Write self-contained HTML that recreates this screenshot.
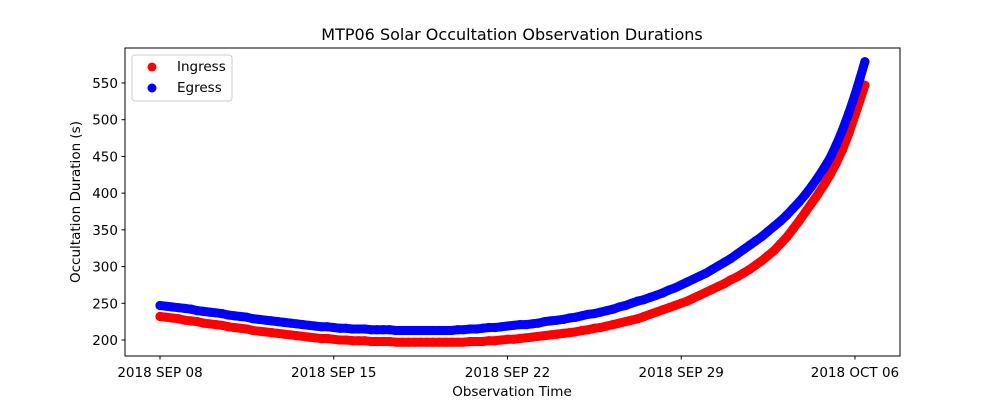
<!DOCTYPE html>
<html><head><meta charset="utf-8"><style>
body{margin:0;background:#fff;font-family:"DejaVu Sans","Liberation Sans",sans-serif;}
svg text{font-family:"DejaVu Sans","Liberation Sans",sans-serif;}
</style></head><body>
<svg id="chart" width="1000" height="400" xmlns="http://www.w3.org/2000/svg">
<rect width="1000" height="400" fill="#fff"/>
<text x="512" y="40" text-anchor="middle" font-size="16">MTP06 Solar Occultation Observation Durations</text>
<g id="plot"></g>
<rect x="125" y="48" width="775" height="308" fill="none" stroke="#000" stroke-width="1"/>
<text x="512" y="396" text-anchor="middle" font-size="13.5">Observation Time</text>
<text transform="translate(80,202) rotate(-90)" text-anchor="middle" font-size="13.5">Occultation Duration (s)</text>
<g>
<rect x="132" y="55" width="100" height="46" rx="3" fill="#fff" stroke="#ccc"/>
<circle cx="152" cy="67" r="4.5" fill="red"/>
<text x="177" y="71" font-size="13.5">Ingress</text>
<circle cx="152" cy="88" r="4.5" fill="blue"/>
<text x="177" y="92" font-size="13.5">Egress</text>
</g>
</svg>
<script>
const xTickDays=[0,7,14,21,28];
const xTickLabels=["2018 SEP 08","2018 SEP 15","2018 SEP 22","2018 SEP 29","2018 OCT 06"];
const yTicks=[200,250,300,350,400,450,500,550];
const tailDays=[28,28.2,28.4];
const ingress=[232,231,230,229,227,226,225,223,222,221,220,218,217,216,215,213,212,211,210,209,208,207,206,205,204,203,202,202,201,200,200,199,199,199,198,198,198,198,197,197,197,197,197,197,197,197,197,197,197,197,198,198,198,199,199,200,201,201,202,203,204,205,206,207,208,209,210,211,213,214,216,217,219,221,223,225,227,229,232,235,238,241,244,247,250,253,257,261,265,269,273,277,282,286,291,296,302,308,315,322,331,340,351,362,374,386,398,411,425,441,459,481,506,526,547];
const egress=[247,246,245,244,243,242,240,239,238,237,236,234,233,232,231,229,228,227,226,225,224,223,222,221,220,219,218,218,217,216,216,215,215,215,214,214,214,214,213,213,213,213,213,213,213,213,213,213,214,214,215,215,216,217,217,218,219,220,221,221,222,223,225,226,227,228,230,231,233,235,236,238,240,242,245,247,250,253,255,258,261,264,268,271,275,279,283,287,291,296,301,306,311,317,323,329,335,341,348,355,362,370,379,388,398,409,421,434,448,466,486,509,534,556,579];
const NS="http://www.w3.org/2000/svg";
const plot=document.getElementById('plot');
const svg=document.getElementById('chart');
function xs(d){return 160+d*24.82;}
function ys(v){return 340-(v-200)*0.7343;}
function dayAt(i,n){return i<n-3?i*0.25:tailDays[i-(n-3)];}
function mk(tag,attrs){const e=document.createElementNS(NS,tag);for(const k in attrs)e.setAttribute(k,attrs[k]);return e;}
yTicks.forEach(v=>{
  const y=ys(v);
  const t=mk('line',{x1:121.5,x2:125,y1:y,y2:y,stroke:'#000'});
  
  
  svg.appendChild(t);
  const l=mk('text',{x:118,y:y+5,'text-anchor':'end','font-size':'13.5'});
  
  
  l.textContent=v;svg.appendChild(l);
});
xTickDays.forEach((d,i)=>{
  const x=xs(d);
  const t=mk('line',{x1:x,x2:x,y1:356,y2:359.5,stroke:'#000'});
  
  
  svg.appendChild(t);
  const l=mk('text',{x:x,y:377,'text-anchor':'middle','font-size':'13.5'});
  
  
  l.textContent=xTickLabels[i];svg.appendChild(l);
});
function series(vals,color,name){
  const g=mk('g',{});
  
  
  const pts=vals.map((v,i)=>xs(dayAt(i,vals.length)).toFixed(1)+','+ys(v).toFixed(1)).join(' ');
  const band=mk('polyline',{points:pts,fill:'none',stroke:color,'stroke-width':9,'stroke-linecap':'round','stroke-linejoin':'round'});
  
  
  g.appendChild(band);
  vals.forEach((v,i)=>{
    const c=mk('circle',{cx:xs(dayAt(i,vals.length)),cy:ys(v),r:4.6,fill:color});
    
    
    g.appendChild(c);
  });
  plot.appendChild(g);
}
series(ingress,'red','ingress');
series(egress,'blue','egress');
</script>
</body></html>
